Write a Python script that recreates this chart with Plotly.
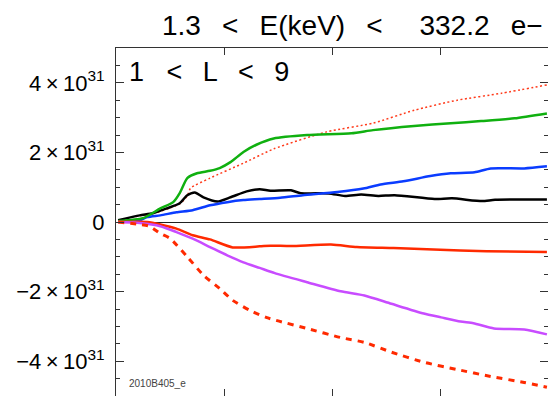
import plotly.graph_objects as go

# Cumulative quantities vs. time (x in tick-interval units, y in units of 1e31)
black_x = [0.02, 0.22, 0.34, 0.47, 0.59, 0.66, 0.73, 0.81, 0.94, 1.06, 1.21, 1.33, 1.43, 1.62,
           1.71, 1.97, 2.12, 2.27, 2.43, 2.58, 2.95, 3.11, 3.39, 3.51, 3.99]
black_y = [0.05, 0.19, 0.25, 0.39, 0.54, 0.77, 0.85, 0.71, 0.59, 0.71, 0.88, 0.94, 0.90, 0.91,
           0.83, 0.82, 0.75, 0.79, 0.75, 0.77, 0.66, 0.68, 0.60, 0.64, 0.65]

green_x = [0.02, 0.25, 0.41, 0.53, 0.59, 0.66, 0.75, 0.87, 0.96, 1.06, 1.18, 1.30, 1.46, 1.77,
           2.18, 2.38, 2.76, 3.10, 3.38, 3.69, 3.99]
green_y = [0.03, 0.11, 0.39, 0.57, 0.83, 1.26, 1.40, 1.47, 1.55, 1.72, 2.01, 2.22, 2.40, 2.50,
           2.55, 2.64, 2.76, 2.84, 2.90, 2.98, 3.12]

dotted_x = [0.02, 0.22, 0.34, 0.47, 0.59, 0.66, 0.69, 0.87, 1.18, 1.46, 1.95, 2.38, 2.76, 3.16,
            3.57, 3.99]
dotted_y = [0.04, 0.18, 0.24, 0.37, 0.52, 0.75, 0.97, 1.26, 1.69, 2.10, 2.59, 2.84, 3.21, 3.50,
            3.70, 3.94]

blue_x = [0.02, 0.19, 0.29, 0.41, 0.56, 0.71, 0.87, 1.03, 1.18, 1.33, 1.52, 1.73, 2.05,
          2.29, 2.45, 2.66, 2.91, 3.10, 3.32, 3.47, 3.78, 3.99]
blue_y = [0.02, 0.02, 0.14, 0.19, 0.28, 0.34, 0.48, 0.57, 0.63, 0.66, 0.70, 0.77, 0.86,
          0.96, 1.08, 1.17, 1.32, 1.40, 1.43, 1.54, 1.54, 1.60]

red_x = [0.02, 0.29, 0.41, 0.56, 0.71, 0.87, 1.08, 1.33, 1.43, 1.62, 1.99, 2.23, 2.57, 2.94,
         3.43, 3.99]
red_y = [0.0, 0.0, -0.07, -0.19, -0.38, -0.50, -0.73, -0.70, -0.68, -0.69, -0.65, -0.72,
         -0.75, -0.79, -0.84, -0.86]

purple_x = [0.02, 0.22, 0.41, 0.56, 0.71, 0.87, 1.03, 1.18, 1.33, 1.47, 1.77, 2.08,
            2.30, 2.55, 2.85, 3.01, 3.19, 3.31, 3.50, 3.78, 3.99]
purple_y = [0.0, -0.03, -0.12, -0.29, -0.48, -0.72, -0.96, -1.16, -1.32, -1.47, -1.73,
            -1.99, -2.11, -2.35, -2.63, -2.74, -2.86, -2.91, -3.06, -3.09, -3.23]

dashed_x = [0.02, 0.22, 0.31, 0.41, 0.50, 0.66, 0.81, 0.96, 1.08, 1.24, 1.39, 1.51,
            1.77, 2.08, 2.30, 2.55, 2.85, 3.16, 3.47, 3.78, 3.99]
dashed_y = [0.0, -0.07, -0.12, -0.33, -0.47, -1.00, -1.53, -1.91, -2.25, -2.54, -2.74,
            -2.85, -3.06, -3.32, -3.46, -3.74, -4.03, -4.24, -4.44, -4.61, -4.75]

SCALE = 1e31
y_tick_vals = [4, 2, 0, -2, -4]
TH = "\u2009"  # thin space
y_tick_text = ["4" + TH + "×" + TH + "10<sup>31</sup>",
               "2" + TH + "×" + TH + "10<sup>31</sup>",
               "0",
               "−2" + TH + "×" + TH + "10<sup>31</sup>",
               "−4" + TH + "×" + TH + "10<sup>31</sup>"]

SP = "\u00a0"
GAP = SP * 2 + TH
title_text = ("1.3" + GAP + "&lt;" + GAP + "E(keV)" + GAP + "&lt;" + SP * 4 + TH
              + "332.2" + GAP + "e−")
region_text = ("1" + SP * 3 + "&lt;" + SP * 2 + TH + "L" + SP * 2 + TH + "&lt;"
               + SP * 2 + TH + "9")
run_label = "2010B405_e"

FONT = "Liberation Sans"

fig = go.Figure()

series = [
    (dotted_x, dotted_y, "#ff3a1a", 1.5, "2px,2.5px"),
    (black_x, black_y, "#000000", 2.5, "solid"),
    (blue_x, blue_y, "#0a3cff", 2.5, "solid"),
    (green_x, green_y, "#10b010", 2.5, "solid"),
    (red_x, red_y, "#ff2a00", 2.5, "solid"),
    (purple_x, purple_y, "#c84cff", 2.5, "solid"),
    (dashed_x, dashed_y, "#ff2a00", 3, "6px,6px"),
]
for xs, ys, color, width, dash in series:
    fig.add_trace(go.Scatter(
        x=xs, y=[v * SCALE for v in ys], mode="lines",
        line=dict(color=color, width=width, dash=dash, shape="spline", smoothing=0.6),
        showlegend=False, hoverinfo="skip",
    ))

fig.update_layout(
    width=548, height=396,
    margin=dict(l=116, r=0, t=48, b=0),
    paper_bgcolor="white", plot_bgcolor="white",
    font=dict(family=FONT, color="black"),
    showlegend=False,
    xaxis=dict(
        range=[0, 4], tickvals=[1, 2, 3], showticklabels=False,
        ticks="inside", ticklen=7, tickcolor="#333", mirror="allticks",
        showline=True, linecolor="#333", linewidth=1,
        showgrid=False, zeroline=False,
    ),
    yaxis=dict(
        range=[-5 * SCALE, 5 * SCALE],
        tickvals=[v * SCALE for v in y_tick_vals], ticktext=y_tick_text,
        tickfont=dict(size=22, family=FONT),
        ticks="inside", ticklen=8, tickcolor="#333", mirror="allticks",
        ticklabelstandoff=6,
        minor=dict(dtick=0.5 * SCALE, ticks="inside", ticklen=4, tickcolor="#333",
                   showgrid=False),
        showline=True, linecolor="#333", linewidth=1,
        showgrid=False, zeroline=True, zerolinecolor="#222", zerolinewidth=1,
    ),
    annotations=[
        dict(text=title_text, xref="paper", yref="paper", x=(160 - 116) / 432,
             y=(396 - 25) / 348, xanchor="left", yanchor="middle", showarrow=False,
             font=dict(size=28, family=FONT)),
        dict(text=region_text, xref="paper", yref="paper", x=(127 - 116) / 432,
             y=(396 - 72) / 348, xanchor="left", yanchor="middle", showarrow=False,
             font=dict(size=27, family=FONT)),
        dict(text=run_label, xref="paper", yref="paper", x=(127 - 116) / 432,
             y=(396 - 383) / 348, xanchor="left", yanchor="middle", showarrow=False,
             font=dict(size=10, family=FONT, color="#444")),
    ],
)

fig.write_html("out.html")
